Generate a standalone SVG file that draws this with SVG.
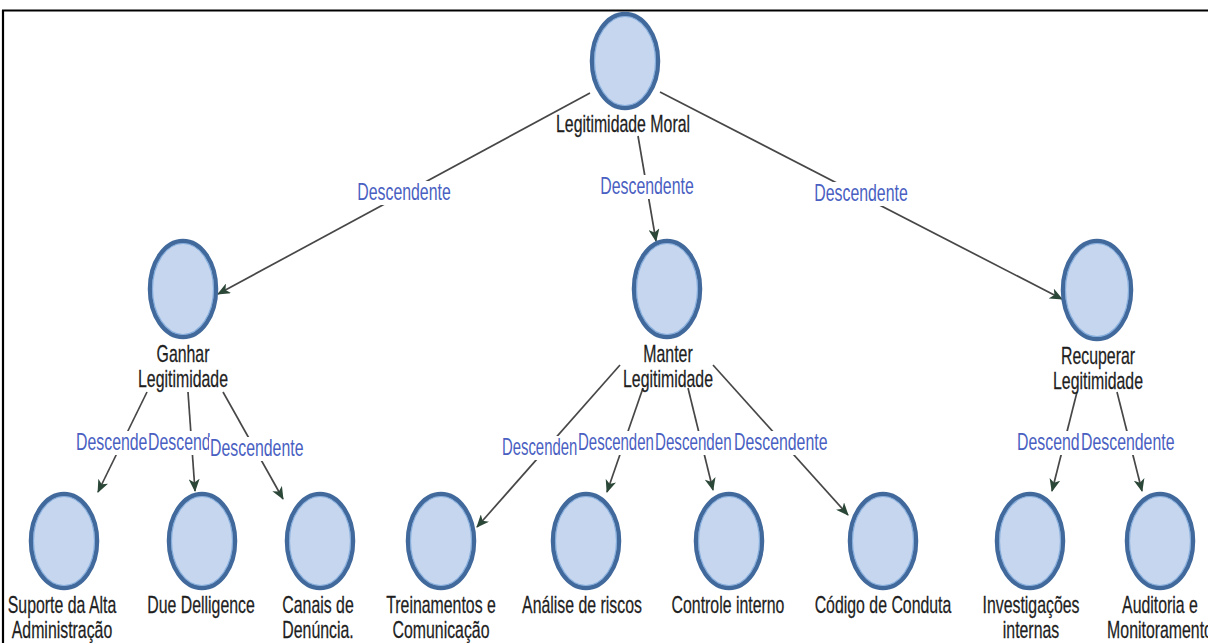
<svg xmlns="http://www.w3.org/2000/svg" width="1208" height="643" viewBox="0 0 1208 643">
<defs>
<style>
.t{font-family:"Liberation Sans",Arial,sans-serif;font-size:23px;fill:#1e1e1e;stroke:#1e1e1e;stroke-width:0.25;text-anchor:middle}
.el{font-family:"Liberation Sans",Arial,sans-serif;font-size:23px;fill:#4a5fc2}
.elc{font-family:"Liberation Sans",Arial,sans-serif;font-size:23px;fill:#4a5fc2;text-anchor:middle}
.n{fill:#c6d6ee;stroke:#41699c;stroke-width:4.5}
.ni{fill:none;stroke:#86aedd;stroke-width:1.2}
.e{stroke:#474747;stroke-width:1.7;fill:none;marker-end:url(#arr)}
.bg{fill:#ffffff}
</style>
<marker id="arr" markerUnits="userSpaceOnUse" markerWidth="13" markerHeight="11" viewBox="0 0 13 11" refX="12" refY="5.5" orient="auto">
<path d="M0,0 L13,5.5 L0,11 L3.5,5.5 Z" fill="#2b4737"/>
</marker>
</defs>
<rect width="1208" height="643" fill="#ffffff"/>
<g id="frame">
<line x1="2" y1="10.5" x2="1208" y2="10.5" stroke="#000" stroke-width="2.2"/>
<line x1="3" y1="10" x2="3" y2="643" stroke="#000" stroke-width="2.2"/>
</g>
<g id="connectors">
<line class="e" x1="590" y1="93" x2="218" y2="294"/>
<line class="e" x1="638" y1="136" x2="656" y2="241"/>
<line class="e" x1="660" y1="92" x2="1062" y2="299"/>
<line class="e" x1="147" y1="392" x2="98" y2="492"/>
<line class="e" x1="188" y1="392" x2="195" y2="491"/>
<line class="e" x1="223" y1="392" x2="283" y2="499"/>
<line class="e" x1="620" y1="365" x2="477" y2="527"/>
<line class="e" x1="643" y1="388" x2="607" y2="492"/>
<line class="e" x1="688" y1="388" x2="713" y2="490"/>
<line class="e" x1="713" y1="365" x2="848" y2="515"/>
<line class="e" x1="1077" y1="392" x2="1052" y2="491"/>
<line class="e" x1="1117" y1="392" x2="1142" y2="491"/>
<g id="edge-labels">
<rect class="bg" x="355" y="181" width="98" height="24"/>
<text class="elc" transform="translate(404,200) scale(.69,1)">Descendente</text>
<rect class="bg" x="598" y="175" width="98" height="24"/>
<text class="elc" transform="translate(647,194) scale(.69,1)">Descendente</text>
<rect class="bg" x="812" y="182" width="98" height="24"/>
<text class="elc" transform="translate(861,201) scale(.69,1)">Descendente</text>
<rect class="bg" x="75" y="431" width="74" height="24"/>
<text class="el" transform="translate(76,450) scale(.69,1)">Descende</text>
<rect class="bg" x="148" y="431" width="62" height="24"/>
<text class="el" transform="translate(148,450) scale(.69,1)">Descend</text>
<rect class="bg" x="209" y="437" width="96" height="24"/>
<text class="el" transform="translate(210,456) scale(.69,1)">Descendente</text>
<rect class="bg" x="501" y="436" width="77" height="24"/>
<text class="el" transform="translate(502,455) scale(.69,1)" textLength="109" lengthAdjust="spacingAndGlyphs">Descenden</text>
<rect class="bg" x="578" y="431" width="77" height="24"/>
<text class="el" transform="translate(578,450) scale(.69,1)" textLength="110" lengthAdjust="spacingAndGlyphs">Descenden</text>
<rect class="bg" x="655" y="431" width="78" height="24"/>
<text class="el" transform="translate(655,450) scale(.69,1)" textLength="111" lengthAdjust="spacingAndGlyphs">Descenden</text>
<rect class="bg" x="733" y="431" width="96" height="24"/>
<text class="el" transform="translate(734,450) scale(.69,1)">Descendente</text>
<rect class="bg" x="1016" y="431" width="64" height="24"/>
<text class="el" transform="translate(1017,450) scale(.69,1)">Descend</text>
<rect class="bg" x="1080" y="431" width="96" height="24"/>
<text class="el" transform="translate(1081,450) scale(.69,1)">Descendente</text>
</g>
</g>
<g id="legitimidade-moral">
<ellipse class="n" cx="625" cy="61" rx="33" ry="47"/>
<ellipse class="ni" cx="625" cy="61" rx="30.5" ry="44.5"/>
<text class="t" transform="translate(623,132) scale(.69,1)">Legitimidade Moral</text>
</g>
<g id="ganhar-legitimidade">
<ellipse class="n" cx="183" cy="289" rx="33" ry="48"/>
<ellipse class="ni" cx="183" cy="289" rx="30.5" ry="45.5"/>
<text class="t" transform="translate(183,362) scale(.69,1)"><tspan x="0">Ganhar</tspan><tspan x="0" dy="25">Legitimidade</tspan></text>
</g>
<g id="manter-legitimidade">
<ellipse class="n" cx="667" cy="289" rx="33" ry="48"/>
<ellipse class="ni" cx="667" cy="289" rx="30.5" ry="45.5"/>
<text class="t" transform="translate(668,362) scale(.69,1)"><tspan x="0">Manter</tspan><tspan x="0" dy="25">Legitimidade</tspan></text>
</g>
<g id="recuperar-legitimidade">
<ellipse class="n" cx="1097" cy="290" rx="34" ry="49"/>
<ellipse class="ni" cx="1097" cy="290" rx="31.5" ry="46.5"/>
<text class="t" transform="translate(1098,364) scale(.69,1)"><tspan x="0">Recuperar</tspan><tspan x="0" dy="25">Legitimidade</tspan></text>
</g>
<g id="suporte">
<ellipse class="n" cx="64" cy="541" rx="33" ry="47"/>
<ellipse class="ni" cx="64" cy="541" rx="30.5" ry="44.5"/>
<text class="t" transform="translate(62,613) scale(.69,1)"><tspan x="0">Suporte da Alta</tspan><tspan x="0" dy="25">Administração</tspan></text>
</g>
<g id="due-delligence">
<ellipse class="n" cx="202" cy="541" rx="33" ry="47"/>
<ellipse class="ni" cx="202" cy="541" rx="30.5" ry="44.5"/>
<text class="t" transform="translate(201,613) scale(.69,1)">Due Delligence</text>
</g>
<g id="canais">
<ellipse class="n" cx="320" cy="541" rx="33" ry="47"/>
<ellipse class="ni" cx="320" cy="541" rx="30.5" ry="44.5"/>
<text class="t" transform="translate(318,613) scale(.69,1)"><tspan x="0">Canais de</tspan><tspan x="0" dy="25">Denúncia.</tspan></text>
</g>
<g id="treinamentos">
<ellipse class="n" cx="441" cy="541" rx="33" ry="47"/>
<ellipse class="ni" cx="441" cy="541" rx="30.5" ry="44.5"/>
<text class="t" transform="translate(441,613) scale(.69,1)"><tspan x="0">Treinamentos e</tspan><tspan x="0" dy="25">Comunicação</tspan></text>
</g>
<g id="analise">
<ellipse class="n" cx="586" cy="541" rx="33" ry="47"/>
<ellipse class="ni" cx="586" cy="541" rx="30.5" ry="44.5"/>
<text class="t" transform="translate(582,613) scale(.69,1)">Análise de riscos</text>
</g>
<g id="controle">
<ellipse class="n" cx="729" cy="541" rx="33" ry="47"/>
<ellipse class="ni" cx="729" cy="541" rx="30.5" ry="44.5"/>
<text class="t" transform="translate(728,613) scale(.69,1)">Controle interno</text>
</g>
<g id="codigo">
<ellipse class="n" cx="883" cy="541" rx="33" ry="47"/>
<ellipse class="ni" cx="883" cy="541" rx="30.5" ry="44.5"/>
<text class="t" transform="translate(883,613) scale(.69,1)">Código de Conduta</text>
</g>
<g id="investigacoes">
<ellipse class="n" cx="1030" cy="541" rx="33" ry="47"/>
<ellipse class="ni" cx="1030" cy="541" rx="30.5" ry="44.5"/>
<text class="t" transform="translate(1031,613) scale(.69,1)"><tspan x="0">Investigações</tspan><tspan x="0" dy="25">internas</tspan></text>
</g>
<g id="auditoria">
<ellipse class="n" cx="1160" cy="541" rx="33" ry="47"/>
<ellipse class="ni" cx="1160" cy="541" rx="30.5" ry="44.5"/>
<text class="t" transform="translate(1160,613) scale(.69,1)"><tspan x="0">Auditoria e</tspan><tspan x="0" dy="25">Monitoramento</tspan></text>
</g>
</svg>
